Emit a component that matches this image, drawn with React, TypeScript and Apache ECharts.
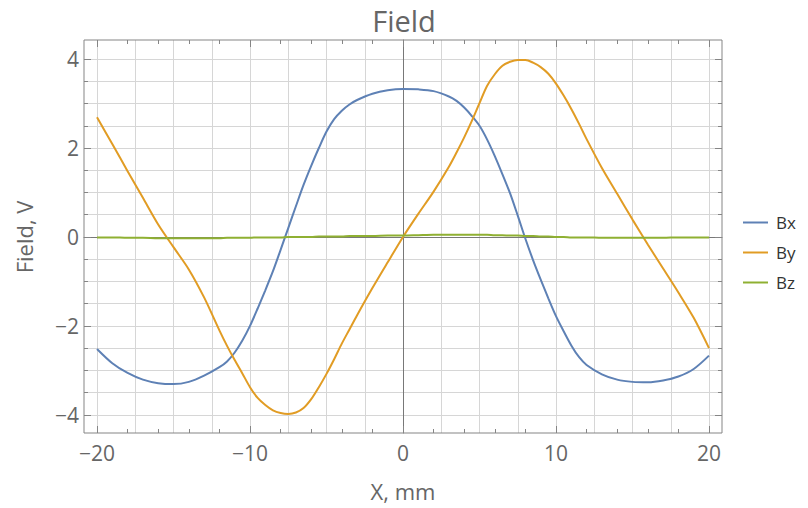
import React, { useEffect, useRef } from "react";
import * as echarts from "echarts";

// x positions (mm) at which the curves were read
const xs = [
  -20, -19, -18, -17, -16, -15, -14, -13, -12, -11.5, -11, -10.5, -10, -9.5, -9, -8.5, -8, -7.5, -7,
  -6.5, -6, -5.5, -5, -4.5, -4, -3.5, -3, -2, -1, 0, 1, 2, 3, 3.5, 4, 4.5, 5, 5.5, 6, 6.5, 7, 7.5, 8,
  8.5, 9, 9.5, 10, 10.5, 11, 11.5, 12, 13, 14, 15, 16, 17, 18, 19, 20,
];
const bx = [
  -2.52, -2.84, -3.06, -3.21, -3.29, -3.31, -3.26, -3.12, -2.93, -2.8, -2.6, -2.33, -2.0, -1.61, -1.2,
  -0.77, -0.29, 0.2, 0.69, 1.17, 1.6, 2.0, 2.37, 2.65, 2.84, 2.98, 3.08, 3.22, 3.3, 3.33, 3.32, 3.28,
  3.16, 3.06, 2.91, 2.72, 2.5, 2.19, 1.82, 1.41, 0.98, 0.48, -0.04, -0.52, -0.96, -1.38, -1.78, -2.12,
  -2.44, -2.7, -2.88, -3.09, -3.21, -3.26, -3.27, -3.23, -3.14, -2.97, -2.67,
];
const by = [
  2.69, 2.09, 1.48, 0.88, 0.28, -0.23, -0.73, -1.36, -2.1, -2.45, -2.77, -3.07, -3.38, -3.62, -3.78,
  -3.9, -3.96, -3.98, -3.95, -3.85, -3.65, -3.38, -3.08, -2.75, -2.4, -2.08, -1.76, -1.15, -0.57, 0.0,
  0.52, 1.02, 1.58, 1.9, 2.24, 2.61, 3.01, 3.4, 3.66, 3.85, 3.94, 3.98, 3.98, 3.92, 3.82, 3.67, 3.45,
  3.18, 2.88, 2.55, 2.2, 1.55, 0.97, 0.39, -0.17, -0.71, -1.25, -1.82, -2.5,
];
const bz = [
  -0.01, -0.01, -0.02, -0.02, -0.03, -0.03, -0.03, -0.03, -0.03, -0.02, -0.02, -0.02, -0.02, -0.01,
  -0.01, -0.01, -0.01, 0.0, 0.0, 0.0, 0.0, 0.01, 0.01, 0.01, 0.01, 0.02, 0.02, 0.02, 0.03, 0.03, 0.04,
  0.05, 0.05, 0.05, 0.05, 0.05, 0.05, 0.05, 0.04, 0.04, 0.03, 0.03, 0.02, 0.02, 0.01, 0.01, 0.0, 0.0,
  -0.01, -0.01, -0.01, -0.02, -0.02, -0.02, -0.02, -0.02, -0.01, -0.01, -0.01,
];
const seriesNames = ["Bx", "By", "Bz"];
const seriesColors = ["#5E81B5", "#E19C24", "#8FB032"];
const xRange = [-20, 20];
const yRange = [-4, 4];
// grid line positions
const xGridLines = [-20, -17.5, -15, -12.5, -10, -7.5, -5, -2.5, 0, 2.5, 5, 7.5, 10, 12.5, 15, 17.5, 20];
const yGridLines = [-4, -3.5, -3, -2.5, -2, -1.5, -1, -0.5, 0, 0.5, 1, 1.5, 2, 2.5, 3, 3.5, 4];
const xMinorTickStep = 2;
const xMajorTickStep = 10;
const yMinorTickStep = 0.5;
const yMajorTickStep = 2;

const FONT = "'Open Sans', 'Liberation Sans', sans-serif";
const TXT = "#666666";
const FRAME = "#858585";
const GRID = "#d6d6d6";
const ZERO = "#787878";

function fmt(v: number, step: number): string {
  const r = Math.round(v / step) * step;
  if (Math.abs(v - r) > 1e-6) return "";
  if (r === 0) return "0";
  return r < 0 ? "\u2212" + Math.abs(r) : String(r);
}

export default function App() {
  const ref = useRef<HTMLDivElement>(null);
  useEffect(() => {
    if (!ref.current) return;
    const chart = echarts.init(ref.current, undefined, { renderer: "svg" });
    const ax = (range: number[], gridIndex: number, extra: any) => ({
      type: "value",
      min: range[0],
      max: range[1],
      gridIndex,
      offset: 0,
      z: 4,
      splitLine: { show: false },
      minorSplitLine: { show: false },
      minorTick: { show: false },
      splitArea: { show: false },
      axisLabel: { show: false },
      axisTick: { show: false },
      axisLine: { show: false, onZero: false },
      ...extra,
    });
    const tick = (len: number) => ({
      show: true,
      inside: true,
      length: len,
      lineStyle: { color: FRAME, width: 1 },
    });
    const zeroLine = { show: true, onZero: true, lineStyle: { color: ZERO, width: 1 } };
    const gridMark = (data: any[]) => ({
      silent: true,
      z: 1,
      zlevel: 0,
      symbol: ["none", "none"],
      label: { show: false },
      emphasis: { disabled: true },
      animation: false,
      lineStyle: { color: GRID, width: 1, type: "solid", opacity: 1 },
      data,
    });

    const option: any = {
      animation: false,
      textStyle: { fontFamily: FONT },
      title: {
        text: "Field",
        left: "center",
        top: 1,
        textStyle: { fontFamily: FONT, fontSize: 29, fontWeight: "normal", color: TXT },
      },
      legend: {
        orient: "vertical",
        left: 738,
        top: 209,
        icon: "rect",
        itemWidth: 25,
        itemHeight: 2,
        itemGap: 13,
        data: seriesNames,
        textStyle: { fontFamily: FONT, fontSize: 17, color: "#333333", padding: [0, 0, 0, 3] },
      },
      grid: [
        { left: 97, right: 99, top: 59.12, bottom: 93.23, containLabel: false, outerBoundsMode: "none" },
        { left: 97, right: 99, top: 40, bottom: 75, containLabel: false, outerBoundsMode: "none" },
        { left: 84, right: 86, top: 59.12, bottom: 93.23, containLabel: false, outerBoundsMode: "none" },
        {
          left: 84,
          right: 86,
          top: 40,
          bottom: 75,
          show: true,
          z: 4,
          borderColor: FRAME,
          borderWidth: 1,
          backgroundColor: "rgba(0,0,0,0)",
          containLabel: false,
          outerBoundsMode: "none",
        },
      ],
      xAxis: [
        ax(xRange, 0, { position: "bottom" }),
        ax(xRange, 1, { position: "bottom", interval: xMinorTickStep, axisTick: tick(4) }),
        ax(xRange, 1, {
          position: "bottom",
          interval: xMajorTickStep,
          axisTick: tick(7),
          axisLabel: {
            show: true,
            margin: 9,
            fontFamily: FONT,
            fontSize: 21,
            color: TXT,
            formatter: (v: number) => fmt(v, xMajorTickStep),
          },
          name: "X, mm",
          nameLocation: "middle",
          nameGap: 47,
          nameTextStyle: { fontFamily: FONT, fontSize: 22, color: TXT },
        }),
        ax(xRange, 1, { position: "top", interval: xMinorTickStep, axisTick: tick(4) }),
        ax(xRange, 1, { position: "top", interval: xMajorTickStep, axisTick: tick(7) }),
        ax(xRange, 2, { position: "bottom", z: 2, axisLine: zeroLine }),
        ax(xRange, 3, { position: "bottom" }),
      ],
      yAxis: [
        ax(yRange, 0, { position: "left" }),
        ax(yRange, 2, { position: "left", interval: yMinorTickStep, axisTick: tick(4) }),
        ax(yRange, 2, {
          position: "left",
          interval: yMajorTickStep,
          axisTick: tick(7),
          axisLabel: {
            show: true,
            margin: 5,
            fontFamily: FONT,
            fontSize: 21,
            color: TXT,
            formatter: (v: number) => fmt(v, yMajorTickStep),
          },
          name: "Field, V",
          nameLocation: "middle",
          nameGap: 49,
          nameRotate: 90,
          nameTextStyle: { fontFamily: FONT, fontSize: 22, color: TXT },
        }),
        ax(yRange, 2, { position: "right", interval: yMinorTickStep, axisTick: tick(4) }),
        ax(yRange, 2, { position: "right", interval: yMajorTickStep, axisTick: tick(7) }),
        ax(yRange, 1, { position: "left", z: 2, axisLine: zeroLine }),
        ax(yRange, 3, { position: "left" }),
      ],
      series: [
        {
          name: "xgrid",
          type: "line",
          xAxisIndex: 1,
          yAxisIndex: 5,
          data: [],
          symbol: "none",
          silent: true,
          z: 1,
          markLine: gridMark(xGridLines.map((v) => ({ xAxis: v }))),
        },
        {
          name: "ygrid",
          type: "line",
          xAxisIndex: 5,
          yAxisIndex: 1,
          data: [],
          symbol: "none",
          silent: true,
          z: 1,
          markLine: gridMark(yGridLines.map((v) => ({ yAxis: v }))),
        },
        ...[bx, by, bz].map((arr, i) => ({
          name: seriesNames[i],
          type: "line",
          xAxisIndex: 0,
          yAxisIndex: 0,
          data: xs.map((x, j) => [x, arr[j]]),
          showSymbol: false,
          symbol: "none",
          smooth: 0.3,
          clip: false,
          color: seriesColors[i],
          lineStyle: { color: seriesColors[i], width: 2 },
          z: 3,
        })),
      ],
    };
    chart.setOption(option);
    return () => chart.dispose();
  }, []);
  return (
    <div
      ref={ref}
      style={{ position: "fixed", left: 0, top: 0, width: 808, height: 508, background: "#ffffff" }}
    />
  );
}
